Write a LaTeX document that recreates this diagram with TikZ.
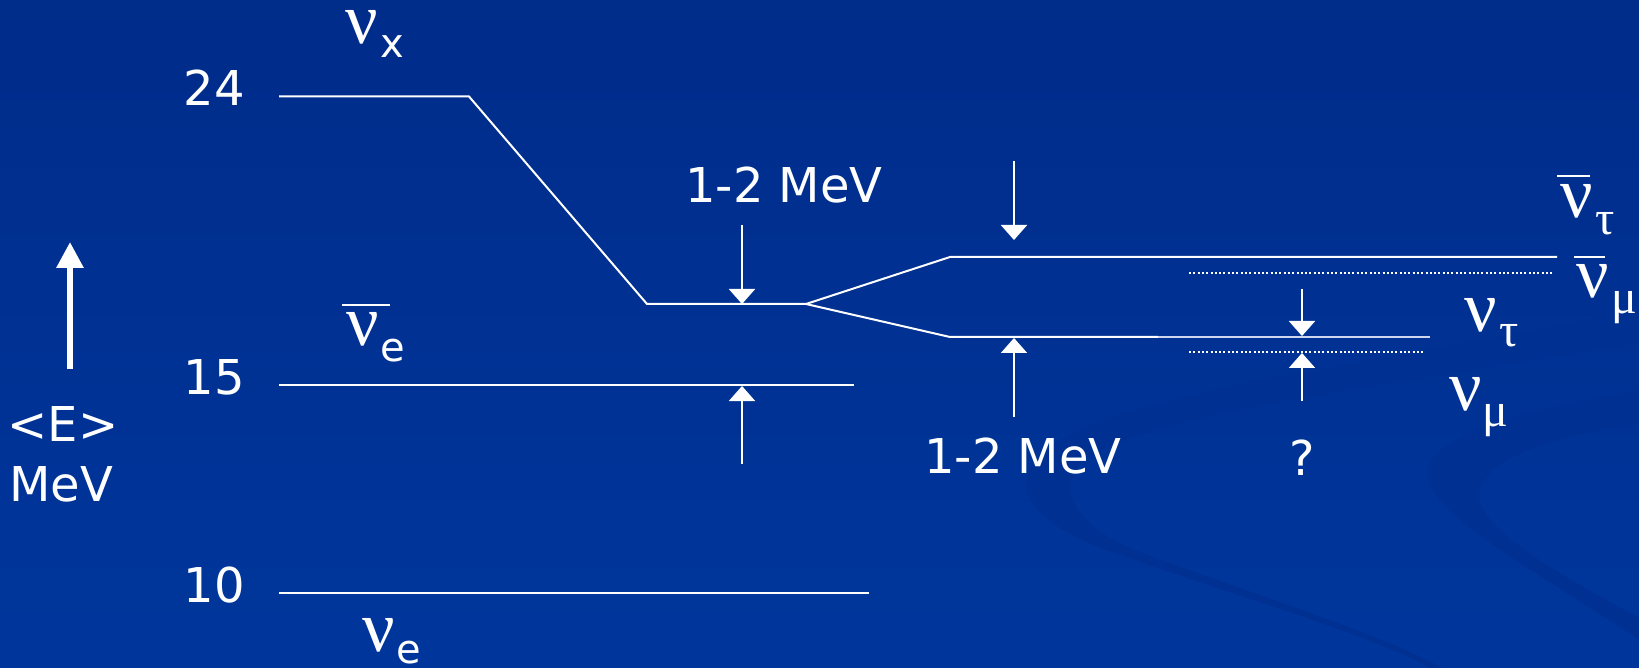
\documentclass[tikz,border=0pt]{standalone}
\usepackage{fontspec}
\setmainfont{DejaVu Sans}
\newfontfamily\grk{Liberation Serif}
\usetikzlibrary{arrows.meta}
\definecolor{bgtop}{RGB}{0,44,138}
\definecolor{bgbot}{RGB}{0,54,156}
\definecolor{swoosh}{RGB}{0,48,145}
\definecolor{thinline}{RGB}{205,214,238}
\begin{document}
\begin{tikzpicture}[x=0.5pt,y=-0.5pt,
  lvl/.style={white, line width=1pt},
  thinlvl/.style={thinline, line width=0.8pt},
  dots/.style={white, line width=1.1pt, dash pattern=on 1pt off 1.15pt},
  gaparrow/.style={white, line width=1pt, -{Triangle[width=13pt,length=7.5pt]}},
  axisarrow/.style={white, line width=3pt, -{Triangle[width=13pt,length=13pt]}},
  lbl/.style={text=white, font=\fontsize{24}{28}\selectfont, inner sep=0pt},
  nu/.style={text=white, font=\grk\fontsize{36}{40}\selectfont, inner sep=0pt, anchor=base west, text height=0.45em, text depth=0pt},
  subs/.style={text=white, font=\fontsize{20}{24}\selectfont, inner sep=0pt, anchor=base west, text height=0.55em, text depth=0pt},
  subg/.style={text=white, font=\grk\fontsize{24}{28}\selectfont, inner sep=0pt, anchor=base west, text height=0.45em, text depth=0.2em},
  bar/.style={white, line width=1.2pt}]
% background
\shade[top color=bgtop, bottom color=bgbot] (0,0) rectangle (1639,668);
\useasboundingbox (0,0) rectangle (1639,668);
% background swooshes
\fill[swoosh] (1639,308) .. controls (1420,360) and (1150,385) .. (1060,440)
  .. controls (1000,480) and (1020,520) .. (1120,555)
  .. controls (1250,600) and (1370,635) .. (1430,668) -- (1442,668)
  .. controls (1385,635) and (1262,598) .. (1135,550)
  .. controls (1062,520) and (1052,472) .. (1100,450)
  .. controls (1200,405) and (1430,380) .. (1639,342) -- cycle;
\fill[swoosh] (1639,390) .. controls (1530,410) and (1440,430) .. (1428,468)
  .. controls (1420,510) and (1520,560) .. (1639,640) -- (1639,618)
  .. controls (1540,565) and (1470,520) .. (1480,490)
  .. controls (1490,455) and (1560,435) .. (1639,424) -- cycle;
% level coordinates
\coordinate (a24) at (279,96.5);
\coordinate (b24) at (469,96.5);
\coordinate (m1) at (647,304);
\coordinate (m2) at (806,304);
\coordinate (u1) at (950,257);
\coordinate (u2) at (1557,257);
\coordinate (d1) at (950,337);
\coordinate (d2) at (1158,337);
\coordinate (d3) at (1430,337);
\coordinate (a15) at (279,385);
\coordinate (b15) at (854,385);
\coordinate (a10) at (279,593);
\coordinate (b10) at (869,593);
\coordinate (p1) at (1189,273);
\coordinate (p2) at (1554,273);
\coordinate (q1) at (1189,352);
\coordinate (q2) at (1425,352);
% levels
\draw[lvl, line join=miter] (a24) -- (b24) -- (m1) -- (m2);
\draw[lvl] (m2) -- (u1) -- (u2);
\draw[lvl] (m2) -- (d1) -- (d2);
\draw[thinlvl] (d2) -- (d3);
\draw[lvl] (a15) -- (b15);
\draw[lvl] (a10) -- (b10);
\draw[dots] (p1) -- (p2);
\draw[dots] (q1) -- (q2);
% gap arrows
\coordinate (g1s) at (742,225);  \coordinate (g1e) at (742,304);
\coordinate (g2s) at (742,464);  \coordinate (g2e) at (742,386);
\coordinate (g3s) at (1014,161); \coordinate (g3e) at (1014,240);
\coordinate (g4s) at (1014,417); \coordinate (g4e) at (1014,338);
\coordinate (g5s) at (1302,289); \coordinate (g5e) at (1302,336);
\coordinate (g6s) at (1302,401); \coordinate (g6e) at (1302,353);
\draw[gaparrow] (g1s) -- (g1e);
\draw[gaparrow] (g2s) -- (g2e);
\draw[gaparrow] (g3s) -- (g3e);
\draw[gaparrow] (g4s) -- (g4e);
\draw[gaparrow] (g5s) -- (g5e);
\draw[gaparrow] (g6s) -- (g6e);
% energy axis arrow
\coordinate (ax1) at (70,369);
\coordinate (ax2) at (70,242);
\draw[axisarrow] (ax1) -- (ax2);
% numeric labels
\node[lbl, anchor=base east] (t24) at (245,106) {24};
\node[lbl, anchor=base east] (t15) at (245,394) {15};
\node[lbl, anchor=base east] (t10) at (245,602) {10};
\node[lbl, anchor=base] (tE) at (63,441) {<E>};
\node[lbl, anchor=base] (tMeV) at (61,501) {MeV};
\node[lbl, anchor=base] (gapA) at (784,203) {1-2 MeV};
\node[lbl, anchor=base] (gapB) at (1023,473) {1-2 MeV};
\node[lbl, anchor=base] (gapC) at (1302,475) {?};
% flavour labels
\node[nu] (nx) at (345,44) {ν};
\node[subs] (nxs) at (380,58) {x};
\node[nu] (nbe) at (346,346) {ν};
\node[subs] (nbes) at (380,362) {e};
\draw[bar] (342,305) -- (390,305);
\node[nu] (ne) at (362,651) {ν};
\node[subs] (nes) at (396,663) {e};
\node[nu] (nt) at (1464,332) {ν};
\node[subg] (nts) at (1499,347) {τ};
\node[nu] (nm) at (1449,410) {ν};
\node[subg] (nms) at (1482,426) {μ};
\node[nu] (nbt) at (1560,218) {ν};
\node[subg] (nbts) at (1595,235) {τ};
\draw[bar] (1557,176) -- (1590,176);
\node[nu] (nbm) at (1576,298) {ν};
\node[subg] (nbms) at (1611,314) {μ};
\draw[bar] (1574,257) -- (1605,257);
\end{tikzpicture}
\end{document}
